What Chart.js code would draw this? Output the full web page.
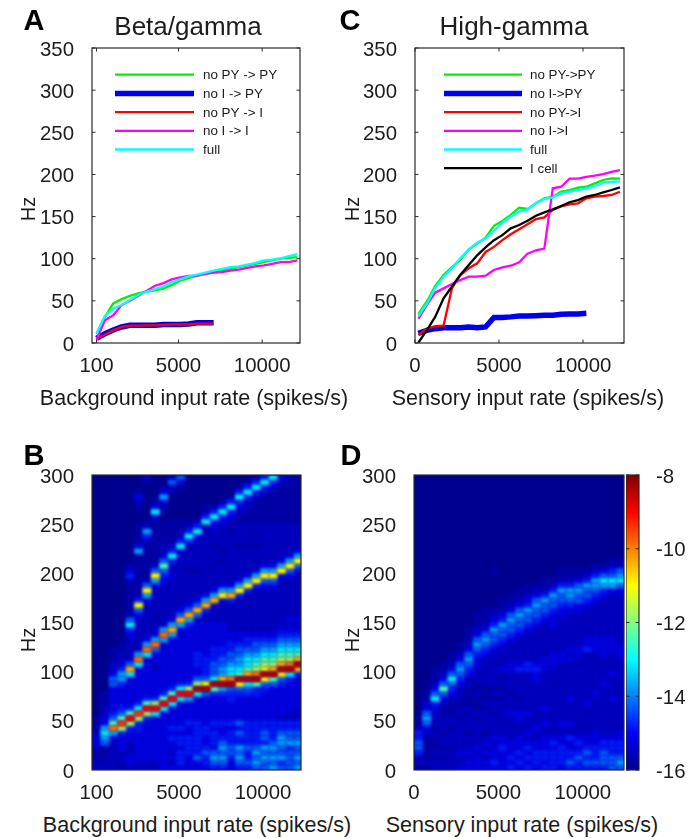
<!DOCTYPE html>
<html>
<head>
<meta charset="utf-8">
<title>Beta/gamma and High-gamma</title>
<script src="https://cdn.jsdelivr.net/npm/chart.js@4/dist/chart.umd.min.js"></script>
<style>
  html, body { margin: 0; padding: 0; background: #fff; }
  #page { position: relative; width: 692px; height: 838px; overflow: hidden; font-family: "Liberation Sans", sans-serif; color: #1c1c1c; }
  #page canvas { position: absolute; }
  .txt { position: absolute; white-space: nowrap; transform: translate(-50%, -50%); line-height: 1; }
  .letter { font-size: 29px; font-weight: bold; color: #000; }
  .head { font-size: 26px; }
  .rate { font-size: 21.5px; }
  .hz { font-size: 20px; transform: translate(-50%, -50%) rotate(-90deg); }
</style>
</head>
<body>
<div id="page"></div>
<script>
// panel A, background drive
const rateA = [100,600,1100,1600,2100,2600,3100,3600,4100,4600,5100,5600,6100,6600,7100,7600,8100,8600,9100,9600,10100,10600,11100,11600,12100];
const noPyPyA = [11,31,47,52,56,59,61,62.5,64.5,69,74,77,79.5,82,84,86,88,90,92,94,96,98,100,101,102];
const noIPyA = [5.5,11,15.5,19,21,21,21,21,22,22,22,22.5,24,24,24];
const noPyIA = [5,10,15,19,20.5,20.5,21,21,21.5,22,22,22,23,23,23];
const noIIA = [4,27,33,45,50,56,62,68,71,75.5,78,79.5,80,82,83.5,84,86,87,89,91,92,94,96,96,98];
const fullA = [11,32,41,45,51,57,61,64,67,72,75.5,79,81,83.5,86,88,90,91,93,95,98,99,100.5,103,105.5];

// panel C, sensory drive
const rateC = [200,700,1200,1700,2200,2700,3200,3700,4200,4700,5200,5700,6200,6700,7200,7700,8200,8700,9200,9700,10200,10700,11200,11700,12200];
const noPyPyC = [34.4,49,67.6,80.7,90,98.9,110.7,118,125,139,144.8,151.9,160.5,159,165.7,171.6,173.6,179.5,181.5,184.2,185.4,189.4,193.4,195.3,195];
const noIPyC = [11.5,15,17,18,18,18,19,18,19,30.4,30.4,31,32,32,32.4,33,33,34,34.4,34.4,35.2];
const noPyIC = [9.5,17,20,20.6,65,80.7,88.6,94.5,108,114,122,129,135,141,147,149,158,162,164.5,165.7,171.6,173.6,174.4,175.6,179.5];
const noIIC = [29,45,59.7,64.8,70,74.7,78.7,78.7,79.9,86.6,89.8,91.7,95.7,106,110,112,183.5,185.4,195,195,197,198.5,200.5,203,205];
const fullC = [32,46.3,65,78.7,88.6,100.4,111,119,124,133,142.7,150,155.8,158.6,165.7,170.8,172.8,177.5,179.5,181.5,183.5,186.2,190.2,191,191.8];
const iCellC = [0.4,15,31,53,67,81,92.5,104,113.5,122,128,136,140,145,151,155,158.6,162.5,167,169.6,173.6,175.6,178.7,181.5,184.7];

const labelsA = ['no PY -> PY', 'no I -> PY', 'no PY -> I', 'no I -> I', 'full'];
const labelsC = ['no PY->PY', 'no I->PY', 'no PY->I', 'no I->I', 'full', 'I cell'];
const lineColors = ['#00f000', '#0000ee', '#ff0000', '#ff00ff', '#00ffff', '#000000'];
const lineWidths = [2.3, 5.5, 2.3, 2.3, 2.3, 2.3];

const ticksHzLine = [0,50,100,150,200,250,300,350];
const ticksHzHeat = [0,50,100,150,200,250,300];
const ticksBackground = [100,5000,10000];
const ticksSensory = [0,5000,10000];
const ticksColorbar = [-16,-14,-12,-10,-8];

// spectrograms: one string per input rate, hex level,
// from 0 Hz upward in 5 Hz bins, spaces every 50 Hz
const rateB = rateA;
const heatB = [
  '2211233211 1000000000',
  '2211156763 3221110000',
  '2222223 6c8 5433333553 2211100000',
  '1222333 49d 8543333466 4322110000',
  '2332223349 e843333337 b522222347 5211111124 3100000000',
  '2233333344 9d74333333 37c6222222 235a421111 1111631111 0001231000',
  '2233333333 49e8433333 3337c63222 222236a521 1111112462 1000000012',
  '2233333333 37e9433333 22335c6322 112222236a 5211111111 1373100000',
  '3333333333 337e843333 3333336c62 2222222234 5852221111 0011363100',
  '3232334343 3337e84333 3333333 6b6 3222222223 2247421111 1000001252',
  '3444344343 33337e7433 3333333336 b532222222 2222374211 1000000125',
  '3334444334 33336e9433 3333333334 6b53222222 1222224742 1000000000',
  '3354444444 333337f953 3444333333 25b5322222 1222222374 2000000000',
  '3445433443 333335fa54 4443333333 224b632222 2222222222 7411000000',
  '4565344434 3333348f75 5544433333 2223b63222 2122212223 4741000000',
  '4565654334 3333346fb6 6554433333 22223a6322 2212122222 3474100000',
  '3345544434 3333445fc7 7655443322 22224b6322 2222222212 2347410000',
  '4565644535 3333345af8 7665543322 222224a632 2222212222 1123474100',
  '4544544444 33333457fb 8776544322 2222224a63 2222212222 1112247410',
  '5656544444 33333448fc 9876554322 22222224a6 2212212122 1111124741',
  '5565645544 33333345af a987654322 222222235a 6322222222 1111112474',
  '6565654444 333333358f b987654322 222222235a 6322222222 1111111247',
  '5465566544 233333345a fb98765432 2222222223 a632222222 1111111123',
  '5555465544 2233333347 fc98765432 3222222223 5a63222222 1111111112',
  '6565565544 2223333334 bfb8765432 3222222222 35a6322222 1111111111'
];

const rateD = [250,750,1250,1750,2250,2750,3250,3750,4250,4750,5250,5750,6250,6750,7250,7750,8250,8750,9250,9750,10250,10750,11250,11750,12250];
const heatD = [
  '1224554421 1000000000',
  '1211111235 6532110000',
  '2212111212 2234753211 1000000000',
  '2212122122 2112358532 1100000000',
  '2222122212 2111234575 3211000000',
  '3223222222 1211122345 6532110000',
  '3323222122 2121111223 4565321110',
  '3332322222 1211121122 2334565321 1100000000',
  '3323232122 2212111222 2223456532 1110000000',
  '3433323222 2122121222 2222345564 3210000000 1000000000',
  '3333433222 2222121212 3222234556 4321100000',
  '4343332222 2322212222 3322223455 6532110000',
  '3434333222 3322122222 4322222345 5653211000',
  '4343432322 2322222222 4422222234 5564321100',
  '3444332232 2222222233 4322222223 4556532100',
  '4344333223 2232222222 3332222222 3455642110',
  '4444343222 2222222222 2333222223 3345564210',
  '3444433223 2222222222 2233222222 2334556421 1000000000',
  '4544334223 2222322222 2232322222 2234566421 1000000000',
  '4454343222 2222222222 2223322222 2233556531 1000000000',
  '4545433222 2223222222 2222433222 2223455642 1000000000',
  '4544433322 2222232222 2222333222 2222345664 2100000000',
  '4555443222 2222222322 2223333222 2222234675 3100000000',
  '5554443222 2222322223 2222333222 2222223675 4210000000',
  '5654443322 2222222222 2223322222 2222223576 5210000000'
];
// position of each hex level on the colour bar, 0 = bottom, 1 = top
const levelShade = [0,0.03,0.06,0.1,0.15,0.21,0.28,0.36,0.44,0.52,0.62,0.7,0.76,0.82,0.88,0.95];

const page = document.getElementById('page');
const fontName = '"Liberation Sans", sans-serif';
const ink = '#1c1c1c';

// jet colour map of the colour bar
const jetStops = [[0,[0,0,143]],[0.125,[0,0,255]],[0.375,[0,255,255]],[0.5,[128,255,128]],[0.625,[255,255,0]],[0.875,[255,0,0]],[1,[128,0,0]]];
function jet(t) {
  for (let i = 1; i < jetStops.length; i++) {
    if (t <= jetStops[i][0]) {
      const a = jetStops[i-1], b = jetStops[i];
      const f = (t - a[0]) / (b[0] - a[0]);
      const c = a[1].map((v, j) => Math.round(v + (b[1][j] - v) * f));
      return 'rgb(' + c.join(',') + ')';
    }
  }
  return 'rgb(128,0,0)';
}

// box, inside ticks and plot background, drawn with the chart's own scales
const framePlugin = {
  id: 'frame',
  beforeDatasetsDraw(chart, args, opts) {
    if (!opts.fill) return;
    const a = chart.chartArea;
    chart.ctx.fillStyle = opts.fill;
    chart.ctx.fillRect(a.left, a.top, a.right - a.left, a.bottom - a.top);
  },
  afterDatasetsDraw(chart, args, opts) {
    const ctx = chart.ctx, a = chart.chartArea, len = 3.5;
    ctx.save();
    ctx.strokeStyle = '#2a2a2a';
    ctx.lineWidth = 1.2;
    ctx.strokeRect(a.left, a.top, a.right - a.left, a.bottom - a.top);
    ctx.lineWidth = 1;
    ctx.beginPath();
    if (opts.ticksX) {
      chart.scales.x.ticks.forEach(t => {
        const x = chart.scales.x.getPixelForValue(t.value);
        ctx.moveTo(x, a.bottom); ctx.lineTo(x, a.bottom - len);
        ctx.moveTo(x, a.top); ctx.lineTo(x, a.top + len);
      });
    }
    if (opts.ticksY) {
      chart.scales.y.ticks.forEach(t => {
        const y = chart.scales.y.getPixelForValue(t.value);
        ctx.moveTo(a.left, y); ctx.lineTo(a.left + len, y);
        ctx.moveTo(a.right, y); ctx.lineTo(a.right - len, y);
      });
    }
    ctx.stroke();
    ctx.restore();
  }
};

// line key inside the plot
const keyPlugin = {
  id: 'lineKey',
  afterDatasetsDraw(chart, args, opts) {
    const ctx = chart.ctx, a = chart.chartArea;
    ctx.save();
    ctx.font = '13.4px ' + fontName;
    ctx.textBaseline = 'middle';
    chart.data.datasets.forEach((ds, i) => {
      const y = a.top + opts.top + i * opts.step;
      ctx.strokeStyle = ds.borderColor;
      ctx.lineWidth = ds.borderWidth;
      ctx.beginPath();
      ctx.moveTo(a.left + opts.from, y);
      ctx.lineTo(a.left + opts.to, y);
      ctx.stroke();
      ctx.fillStyle = ink;
      ctx.fillText(ds.label, a.left + opts.text, y + 1);
    });
    ctx.restore();
  }
};

function addCanvas(left, top, width, height) {
  const c = document.createElement('canvas');
  c.width = width;
  c.height = height;
  c.style.left = left + 'px';
  c.style.top = top + 'px';
  page.appendChild(c);
  return c;
}

function addText(text, cls, x, y) {
  const d = document.createElement('div');
  d.className = 'txt ' + cls;
  d.textContent = text;
  d.style.left = x + 'px';
  d.style.top = y + 'px';
  page.appendChild(d);
}

function noScalePadding(s) {
  s.paddingTop = s.paddingBottom = s.paddingLeft = s.paddingRight = 0;
}

const yRoom = 70, xRoom = 40, topRoom = 14, rightRoom = 14;

function baseOptions(xMin, xMax, xTicks, yMax, yTicks) {
  return {
    responsive: false,
    animation: false,
    layout: { autoPadding: false, padding: { top: topRoom, right: rightRoom, left: 0, bottom: 0 } },
    plugins: { legend: { display: false }, tooltip: { enabled: false } },
    scales: {
      x: {
        type: 'linear', min: xMin, max: xMax,
        grid: { display: false }, border: { display: false },
        afterBuildTicks: s => { s.ticks = xTicks.map(v => ({ value: v })); },
        afterFit: s => { s.height = xRoom; noScalePadding(s); },
        ticks: { autoSkip: false, maxRotation: 0, padding: 3, color: ink, font: { family: fontName, size: 20.4 }, callback: v => String(v) }
      },
      y: {
        type: 'linear', min: 0, max: yMax,
        grid: { display: false }, border: { display: false },
        afterBuildTicks: s => { s.ticks = yTicks.map(v => ({ value: v })); },
        afterFit: s => { s.width = yRoom; noScalePadding(s); },
        ticks: { autoSkip: false, padding: 10, labelOffset: 2, color: ink, font: { family: fontName, size: 20.4 }, callback: v => String(v) }
      }
    }
  };
}

function lineChart(box, cfg) {
  const canvas = addCanvas(box.left - yRoom, box.top - topRoom, box.width + yRoom + rightRoom, box.height + topRoom + xRoom);
  const datasets = cfg.series.map((vals, i) => ({
    label: cfg.labels[i],
    data: vals.map((v, k) => ({ x: cfg.rate[k], y: v })),
    borderColor: lineColors[i],
    borderWidth: lineWidths[i],
    pointRadius: 0,
    tension: 0,
    fill: false,
    order: cfg.series.length - i
  }));
  const options = baseOptions(cfg.xMin, cfg.xMax, cfg.xTicks, 350, ticksHzLine);
  options.plugins.frame = { ticksX: true, ticksY: true };
  options.plugins.lineKey = cfg.key;
  return new Chart(canvas.getContext('2d'), {
    type: 'line',
    data: { datasets: datasets },
    options: options,
    plugins: [framePlugin, keyPlugin]
  });
}

// soft edged cell per level, the reference is a smoothed image
function cellSprites(w, h) {
  return levelShade.map(shade => {
    const c = document.createElement('canvas');
    c.width = Math.ceil(w) + 12;
    c.height = Math.ceil(h) + 12;
    const g = c.getContext('2d');
    g.filter = 'blur(1.5px)';
    g.fillStyle = jet(shade);
    g.fillRect((c.width - w) / 2, (c.height - h) / 2, w, h);
    return c;
  });
}

function heatChart(box, cfg) {
  const canvas = addCanvas(box.left - yRoom, box.top - topRoom, box.width + yRoom + rightRoom, box.height + topRoom + xRoom);
  const sprites = cellSprites(8.9, 5.4);
  const cells = [];
  cfg.columns.forEach((col, k) => {
    col.replace(/ /g, '').split('').forEach((ch, i) => {
      const level = parseInt(ch, 16);
      if (level > 0) cells.push({ x: cfg.rate[k], y: i * 5 + 2.5, level: level });
    });
  });
  cells.sort((a, b) => a.level - b.level);
  const options = baseOptions(cfg.xMin, cfg.xMax, cfg.xTicks, 300, ticksHzHeat);
  options.plugins.frame = { fill: jet(0) };
  return new Chart(canvas.getContext('2d'), {
    type: 'scatter',
    data: { datasets: [{
      data: cells,
      clip: 0,
      pointRadius: 3,
      pointStyle: ctx => sprites[ctx.raw ? ctx.raw.level : 1]
    }] },
    options: options,
    plugins: [framePlugin]
  });
}

function colorBar(box) {
  const canvas = addCanvas(box.left, box.top - topRoom, box.width + 50, box.height + topRoom + 14);
  return new Chart(canvas.getContext('2d'), {
    type: 'bar',
    data: {
      labels: ['power'],
      datasets: [{
        data: [[ticksColorbar[0], ticksColorbar[ticksColorbar.length - 1]]],
        barPercentage: 1,
        categoryPercentage: 1,
        backgroundColor: ctx => {
          const a = ctx.chart.chartArea;
          if (!a) return jet(0);
          const g = ctx.chart.ctx.createLinearGradient(0, a.bottom, 0, a.top);
          jetStops.forEach(s => g.addColorStop(s[0], jet(Math.min(s[0], 0.9999))));
          g.addColorStop(1, 'rgb(128,0,0)');
          return g;
        }
      }]
    },
    options: {
      responsive: false,
      animation: false,
      layout: { autoPadding: false, padding: { top: topRoom, right: 0, left: 0, bottom: 14 } },
      plugins: { legend: { display: false }, tooltip: { enabled: false }, frame: { ticksY: true } },
      scales: {
        x: { display: false },
        y: {
          position: 'right', min: -16, max: -8,
          grid: { display: false }, border: { display: false },
          afterBuildTicks: s => { s.ticks = ticksColorbar.map(v => ({ value: v })); },
          afterFit: s => { s.width = 50; noScalePadding(s); },
          ticks: { autoSkip: false, padding: 9, labelOffset: 2, color: ink, font: { family: fontName, size: 20.4 }, callback: v => String(v) }
        }
      }
    },
    plugins: [framePlugin]
  });
}

const boxA = { left: 92, top: 48, width: 208, height: 295 };
const boxC = { left: 415, top: 48, width: 209, height: 295 };
const boxB = { left: 92, top: 475, width: 209, height: 295 };
const boxD = { left: 414, top: 475, width: 210, height: 295 };
const boxBar = { left: 626, top: 475, width: 13, height: 295 };

lineChart(boxA, {
  rate: rateA, series: [noPyPyA, noIPyA, noPyIA, noIIA, fullA], labels: labelsA,
  xMin: -170, xMax: 12260, xTicks: ticksBackground,
  key: { top: 26.7, step: 18.7, from: 23, to: 102, text: 111 }
});
lineChart(boxC, {
  rate: rateC, series: [noPyPyC, noIPyC, noPyIC, noIIC, fullC, iCellC], labels: labelsC,
  xMin: 0, xMax: 12440, xTicks: ticksSensory,
  key: { top: 26.7, step: 18.7, from: 29, to: 107, text: 115 }
});
heatChart(boxB, {
  rate: rateB, columns: heatB,
  xMin: -170, xMax: 12260, xTicks: ticksBackground
});
heatChart(boxD, {
  rate: rateD, columns: heatD,
  xMin: 0, xMax: 12440, xTicks: ticksSensory
});
colorBar(boxBar);

addText('A', 'letter', 34, 20);
addText('B', 'letter', 34, 455);
addText('C', 'letter', 350, 20);
addText('D', 'letter', 351, 455);
addText('Beta/gamma', 'head', 188, 26);
addText('High-gamma', 'head', 514, 26);
addText('Hz', 'hz', 28, 209);
addText('Hz', 'hz', 352, 209);
addText('Hz', 'hz', 28, 640);
addText('Hz', 'hz', 352, 640);
addText('Background input rate (spikes/s)', 'rate', 194, 399);
addText('Sensory input rate (spikes/s)', 'rate', 528, 399);
addText('Background input rate (spikes/s)', 'rate', 197, 826);
addText('Sensory input rate (spikes/s)', 'rate', 522, 826);
</script>
</body>
</html>
